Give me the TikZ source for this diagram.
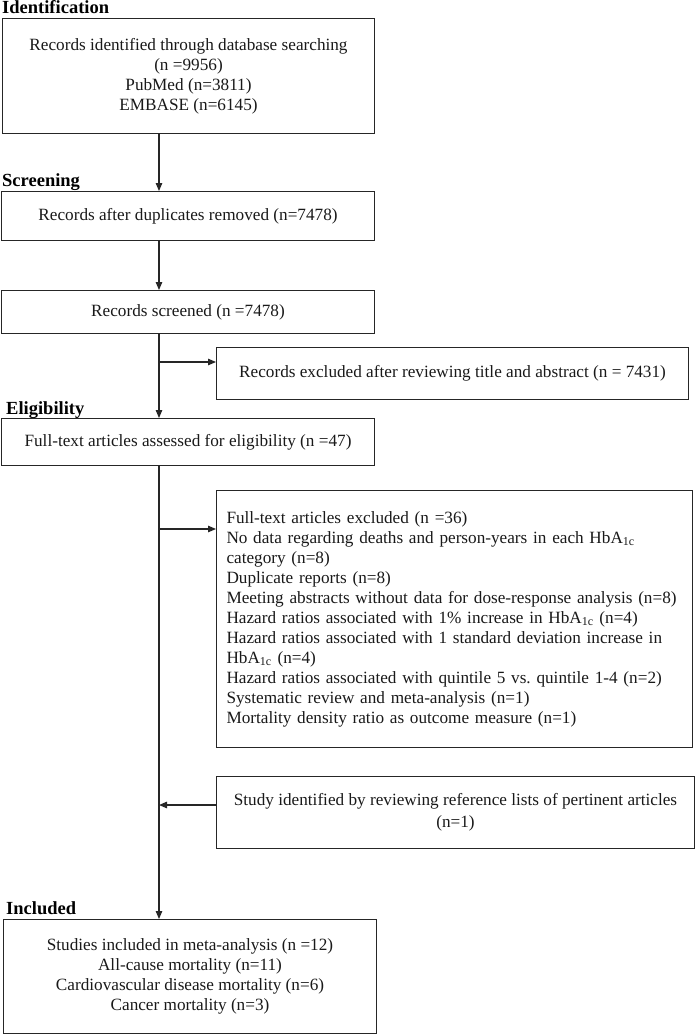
\documentclass[tikz,border=0pt]{standalone}
\usepackage{fontspec}
\setmainfont{Liberation Serif}
\usetikzlibrary{arrows.meta}
\frenchspacing

\tikzset{
  box/.style={draw=black!85, line width=1pt, anchor=north west, inner sep=0pt,
    align=center, text=black!90, font=\fontsize{17.2}{20}\selectfont},
  stage/.style={anchor=base west, inner sep=0pt, font=\fontsize{18.5}{20}\selectfont\bfseries},
  arr/.style={draw=black!85, line width=1.1pt, -{Triangle[length=8pt,width=6.5pt]}}
}

\begin{document}
\begin{tikzpicture}[x=1pt,y=-1pt]
  \useasboundingbox (0,0) rectangle (697,1036);

  \coordinate (spine) at (159,0);
  \coordinate (b1) at (159,362);
  \coordinate (b2) at (159,529);
  \coordinate (b3) at (159,805);

  % identification
  \node[stage] (lident) at (2,13) {Identification};
  \node[box, minimum width=372pt, minimum height=115pt] (ident) at (2,18)
    {Records identified through database searching\\(n =9956)\\PubMed (n=3811)\\EMBASE (n=6145)};

  % screening
  \node[stage] (lscreen) at (2,186) {Screening};
  \node[box, minimum width=373pt, minimum height=49pt] (dup) at (1,191)
    {Records after duplicates removed (n=7478)};
  \node[box, minimum width=373pt, minimum height=43pt] (screen) at (1,290)
    {Records screened (n =7478)};
  \node[box, minimum width=472pt, minimum height=52pt] (excl1) at (216,347)
    {Records excluded after reviewing title and abstract (n = 7431)};

  % eligibility
  \node[stage] (lelig) at (6,414) {Eligibility};
  \node[box, minimum width=373pt, minimum height=47pt] (full) at (1,418)
    {Full-text articles assessed for eligibility (n =47)};
  \node[box, minimum width=476pt, minimum height=257pt, align=left, text width=456pt] (excl2) at (216,490)
    {Full-text articles excluded (n =36)\\
     No data regarding deaths and person-years in each HbA\textsubscript{1c}\\
     category (n=8)\\
     Duplicate reports (n=8)\\
     Meeting abstracts without data for dose-response analysis (n=8)\\
     Hazard ratios associated with 1\% increase in HbA\textsubscript{1c} (n=4)\\
     Hazard ratios associated with 1 standard deviation increase in\\
     HbA\textsubscript{1c} (n=4)\\
     Hazard ratios associated with quintile 5 vs. quintile 1-4 (n=2)\\
     Systematic review and meta-analysis (n=1)\\
     Mortality density ratio as outcome measure (n=1)};
  \node[box, minimum width=478pt, minimum height=72pt, font=\fontsize{17.2}{22.5}\selectfont] (added) at (216,776)
    {Study identified by reviewing reference lists of pertinent articles\\(n=1)};

  % included
  \node[stage] (lincl) at (6,914) {Included};
  \node[box, minimum width=373pt, minimum height=114pt] (incl) at (3,919)
    {Studies included in meta-analysis (n =12)\\All-cause mortality (n=11)\\
     Cardiovascular disease mortality (n=6)\\Cancer mortality (n=3)};

  \draw[arr] (ident.south -| spine) -- (dup.north -| spine);
  \draw[arr] (dup.south -| spine) -- (screen.north -| spine);
  \draw[arr] (screen.south -| spine) -- (full.north -| spine);
  \draw[arr] (b1) -- (b1 -| excl1.west);
  \draw[arr] (full.south -| spine) -- (incl.north -| spine);
  \draw[arr] (b2) -- (b2 -| excl2.west);
  \draw[arr] (b3 -| added.west) -- (b3);
\end{tikzpicture}
\end{document}
